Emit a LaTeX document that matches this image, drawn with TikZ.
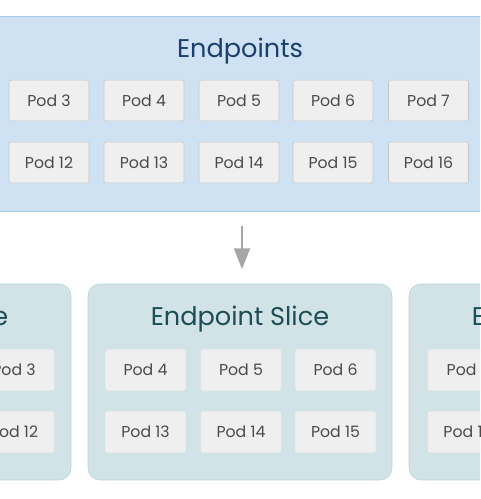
\documentclass[tikz,border=0pt]{standalone}
\usepackage{fontspec}
\setmainfont{Poppins}
\usepackage{tikz}
\usetikzlibrary{arrows.meta}

\definecolor{topfill}{HTML}{CFE2F3}
\definecolor{topline}{HTML}{A9CBEA}
\definecolor{toptext}{HTML}{1B3F6E}
\definecolor{slicefill}{HTML}{D1E3E7}
\definecolor{sliceline}{HTML}{B4D3D8}
\definecolor{slicetext}{HTML}{1D4D55}
\definecolor{podfill}{HTML}{EFEFEF}
\definecolor{podtext}{HTML}{4A4A4A}
\definecolor{arrowgray}{HTML}{A6A6A6}

\begin{document}
\begin{tikzpicture}[x=0.75pt,y=-0.75pt,
        pod/.style={rectangle,draw=#1,fill=podfill,rounded corners=1.5pt,
            minimum width=60pt,minimum height=30.5pt,inner sep=0pt,
            text=podtext,font=\fontsize{11.8}{14}\selectfont},
        pod/.default={black!22},
        slice/.style={rectangle,draw=sliceline,fill=slicefill,rounded corners=9pt,
            minimum width=228pt,minimum height=147pt,inner sep=0pt},
        title/.style={font=\fontsize{19.2}{22}\selectfont}]

    \useasboundingbox (0,0) rectangle (480,499);
    \clip (0,0) rectangle (480,499);

    % Endpoints box
    \node[rectangle,draw=topline,fill=topfill,minimum width=390pt,
        minimum height=146.25pt,inner sep=0pt] (endpoints) at (240,113.5) {};
    \node[title,text=toptext] (eptitle) at (240,51.5) {Endpoints};

    % Pods of the Endpoints box
    \node[pod] (e3) at (49,100.5) {Pod 3};
    \node[pod] (e4) at (144,100.5) {Pod 4};
    \node[pod] (e5) at (239,100.5) {Pod 5};
    \node[pod] (e6) at (333,100.5) {Pod 6};
    \node[pod] (e7) at (428.5,100.5) {Pod 7};
    \node[pod] (e12) at (49,162.5) {Pod 12};
    \node[pod] (e13) at (144,162.5) {Pod 13};
    \node[pod] (e14) at (239,162.5) {Pod 14};
    \node[pod] (e15) at (333,162.5) {Pod 15};
    \node[pod] (e16) at (428.5,162.5) {Pod 16};

    % Endpoint Slice boxes
    \node[slice] (sliceA) at (-81,382) {};
    \node[slice] (sliceB) at (240,382) {};
    \node[slice] (sliceC) at (561,382) {};
    \node[title,text=slicetext] (titleA) at (-81,319.5) {Endpoint Slice};
    \node[title,text=slicetext] (titleB) at (240,319.5) {Endpoint Slice};
    \node[title,text=slicetext] (titleC) at (561,319.5) {Endpoint Slice};

    % Pods of the slices
    \node[pod=black!8] (a3) at (14,370) {Pod 3};
    \node[pod=black!8] (a12) at (14,432) {Pod 12};

    \node[pod=black!8] (b4) at (145.5,370) {Pod 4};
    \node[pod=black!8] (b5) at (241,370) {Pod 5};
    \node[pod=black!8] (b6) at (335.5,370) {Pod 6};
    \node[pod=black!8] (b13) at (145.5,432) {Pod 13};
    \node[pod=black!8] (b14) at (241,432) {Pod 14};
    \node[pod=black!8] (b15) at (335.5,432) {Pod 15};

    \node[pod=black!8] (c7) at (468,370) {Pod 7};
    \node[pod=black!8] (c16) at (468,432) {Pod 16};

    % Arrow
    \draw[arrowgray,line width=1.5pt,-{Triangle[width=12pt,length=15.5pt]},
        shorten <=11pt,shorten >=11pt]
        ([xshift=1.5pt]endpoints.south) -- ([xshift=1.5pt]sliceB.north);

\end{tikzpicture}
\end{document}
